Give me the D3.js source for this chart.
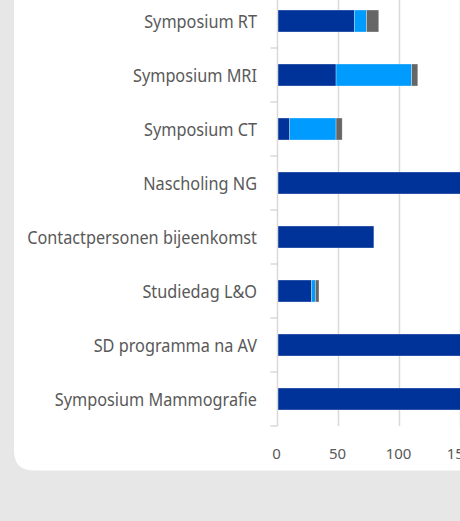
<!DOCTYPE html>
<html>
<head>
<meta charset="utf-8">
<script src="https://cdn.jsdelivr.net/npm/d3@7"></script>
<style>
  html, body { margin: 0; padding: 0; background: #e7e7e8; overflow: hidden; }
  svg { display: block; }
</style>
</head>
<body>
<svg id="canvas"></svg>
<script>
const W = 460, H = 521;

// categories, top to bottom
const categories = [
  'Symposium RT',
  'Symposium MRI',
  'Symposium CT',
  'Nascholing NG',
  'Contactpersonen bijeenkomst',
  'Studiedag L&O',
  'SD programma na AV',
  'Symposium Mammografie'
];
// three stacked series (dark blue, light blue, grey)
const serieA = [63, 48, 10, 175, 79, 28, 190, 205];
const serieB = [10, 62, 38, 0, 0, 3, 0, 0];
const serieC = [10, 5, 5, 0, 0, 3, 0, 0];
const xTicks = [0, 50, 100, 150];
const colors = ['#003399', '#009bff', '#666666'];

const svg = d3.select('#canvas').attr('width', W).attr('height', H);

// white panel, rounded bottom-left corner
const px = 14, pb = 470.5, rr = 20;
svg.append('path')
  .attr('d', `M${px},-10 L${W + 10},-10 L${W + 10},${pb} L${px + rr},${pb} Q${px},${pb} ${px},${pb - rr} Z`)
  .attr('fill', '#fff');

const x = d3.scaleLinear().domain([0, 150]).range([277.5, 460.5]);
const y = d3.scaleBand().domain(categories).range([-6, 426])
  .paddingInner(0.593).paddingOuter(0.2965);

// gridlines
svg.append('g').selectAll('line')
  .data(xTicks.slice(1))
  .join('line')
    .attr('x1', d => x(d)).attr('x2', d => x(d))
    .attr('y1', -6).attr('y2', 426)
    .attr('stroke', '#d9d9d9').attr('stroke-width', 1.5);

// stacked bars
const rows = categories.map((c, i) => ({ cat: c, a: serieA[i], b: serieB[i], c: serieC[i] }));
const stack = d3.stack().keys(['a', 'b', 'c'])(rows);

svg.append('g').selectAll('g')
  .data(stack)
  .join('g')
    .attr('fill', (d, i) => colors[i])
  .selectAll('rect')
  .data(d => d.filter(s => s[1] > s[0]))
  .join('rect')
    .attr('x', d => x(d[0]))
    .attr('y', d => y(d.data.cat))
    .attr('width', d => x(d[1]) - x(d[0]))
    .attr('height', y.bandwidth())
    .attr('stroke', '#ffffff').attr('stroke-width', 0.6).attr('stroke-opacity', 0.5);

// category axis line + boundary ticks
const axisG = svg.append('g').attr('stroke', '#d9d9d9').attr('stroke-width', 1.5);
axisG.append('line')
  .attr('x1', x(0)).attr('x2', x(0)).attr('y1', -6).attr('y2', 426);
const bounds = categories.map(c => y(c) + y.bandwidth() + y.step() * y.paddingInner() / 2);
axisG.selectAll('line.tk')
  .data(bounds)
  .join('line').attr('class', 'tk')
    .attr('x1', x(0) - 7).attr('x2', x(0))
    .attr('y1', d => d).attr('y2', d => d);

// category labels (narrow look: squeeze horizontally)
const labG = svg.append('g')
  .attr('font-family', '"Noto Sans", sans-serif')
  .attr('font-size', 18)
  .attr('fill', '#595959');
const labs = labG.selectAll('text')
  .data(categories)
  .join('text')
    .attr('text-anchor', 'end')
    .text(d => d);
const widest = labs.nodes().find(n => n.textContent === 'Contactpersonen bijeenkomst').getComputedTextLength();
const k = 230 / widest;
labs.attr('transform', d => `translate(257,${y(d) + y.bandwidth() / 2 + 7}) scale(${k},1)`);

// value axis labels
svg.append('g')
  .attr('font-family', '"Noto Sans", sans-serif')
  .attr('font-size', 15)
  .attr('fill', '#595959')
  .selectAll('text')
  .data(xTicks)
  .join('text')
    .attr('x', d => x(d) - 1)
    .attr('y', 459)
    .attr('text-anchor', 'middle')
    .text(d => d);
</script>
</body>
</html>
